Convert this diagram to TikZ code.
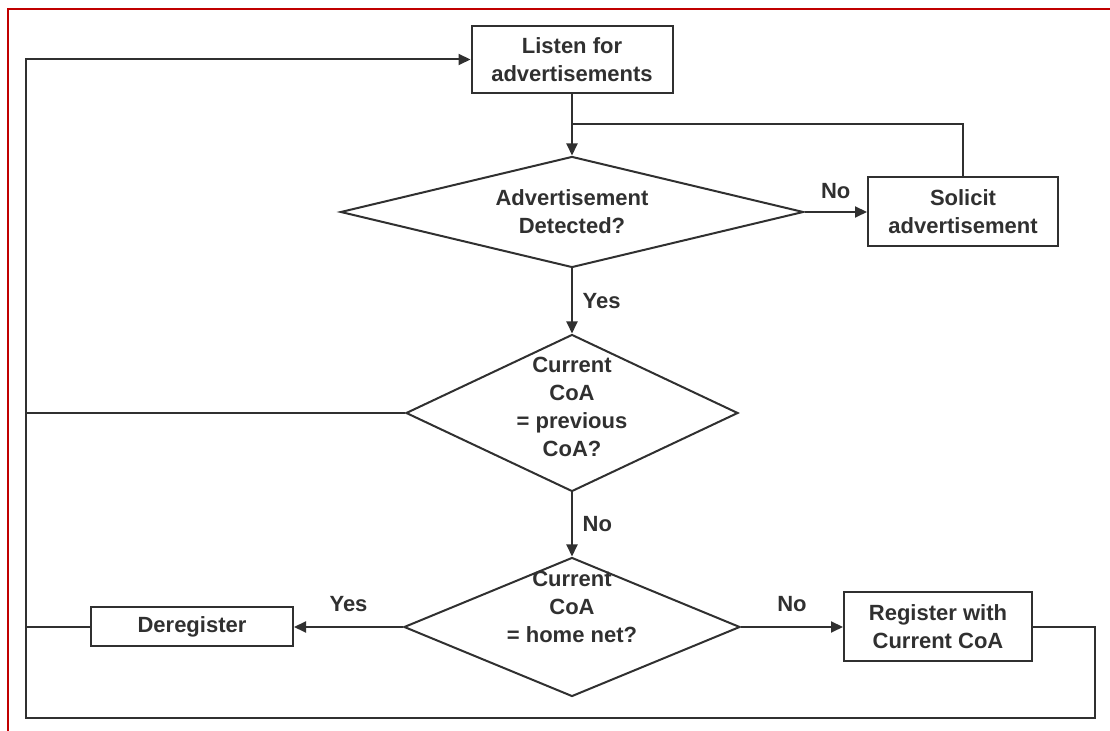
\documentclass[tikz,border=0pt]{standalone}
\usepackage{fontspec}
\setmainfont{Liberation Sans}
\usetikzlibrary{shapes.geometric,arrows.meta,positioning}
\definecolor{framered}{HTML}{C00000}
\definecolor{ink}{HTML}{303030}

\begin{document}
\begin{tikzpicture}[x=0.5pt, y=-0.5pt, >={Triangle[length=6pt,width=5.5pt]},
  every node/.style={font=\fontsize{11}{14}\selectfont\bfseries, text=ink},
  box/.style={draw=ink, line width=1pt, align=center, inner sep=0pt},
  decision/.style={draw=ink, line width=1pt, diamond, align=center, inner sep=-20pt},
  flow/.style={draw=ink, line width=1pt}]
\useasboundingbox (0,0) rectangle (1110,731);
\draw[framered, line width=1.4pt] (8,731) -- (8,9) -- (1110,9);

\node[box, minimum width=100.5pt, minimum height=33.5pt] (listen) at (572,59.5) {Listen for\\advertisements};
\node[decision, minimum width=231.5pt, minimum height=55.5pt] (detect) at (572,212) {Advertisement\\Detected?};
\node[box, minimum width=95pt, minimum height=34.5pt] (solicit) at (963,212) {Solicit\\advertisement};
\node[decision, minimum width=166pt, minimum height=78.5pt, text depth=6pt] (prev) at (572,413) {Current\\CoA\\= previous\\CoA?};
\node[decision, minimum width=168pt, minimum height=69.5pt, text depth=20pt] (home) at (572,627) {Current\\CoA\\= home net?};
\node[box, minimum width=101pt, minimum height=19.5pt] (dereg) at (192,627) {Deregister};
\node[box, minimum width=94pt, minimum height=34.5pt] (register) at (938,627) {Register with\\Current CoA};

\coordinate (join) at (572,124);
\coordinate (lbot) at (26,718);
\coordinate (rbot) at (1095,718);

\draw[flow,->] (listen) -- (detect);
\draw[flow] (solicit) |- (join);
\draw[flow,->] (detect) -- node[above=3pt]{No} (solicit);
\draw[flow,->] (detect) -- node[right=1.5pt]{Yes} (prev);
\draw[flow,->] (prev) -- node[right=1.5pt]{No} (home);
\draw[flow,->] (home) -- node[above=4pt]{Yes} (dereg);
\draw[flow,->] (home) -- node[above=4pt]{No} (register);
% loops back to the top
\draw[flow] (prev) -- (prev -| lbot);
\draw[flow] (dereg) -- (dereg -| lbot);
\draw[flow,->] (register) -| (rbot) -- (lbot) |- (listen);
\end{tikzpicture}
\end{document}
